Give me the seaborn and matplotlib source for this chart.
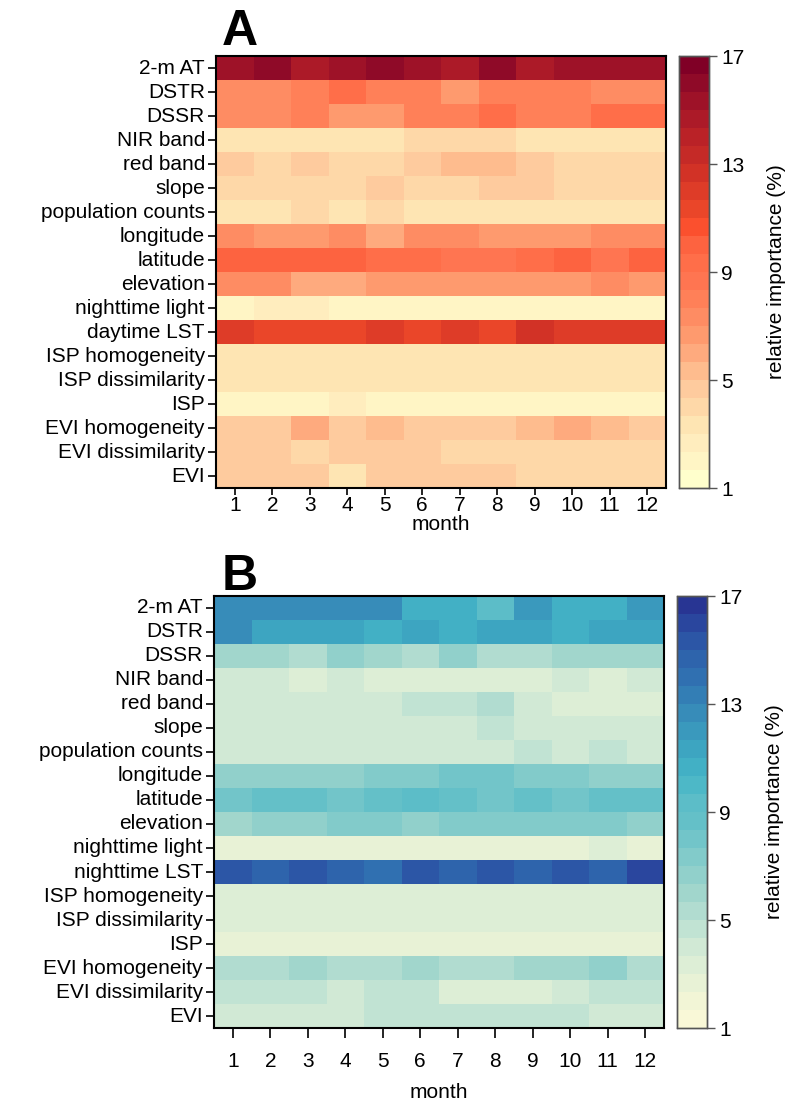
import numpy as np
import pandas as pd
import matplotlib
matplotlib.use("Agg")
import matplotlib.pyplot as plt
import seaborn as sns
from matplotlib.colors import ListedColormap

sns.set_style("white")
plt.rcParams['font.family'] = ['Liberation Sans', 'DejaVu Sans']

months = [str(m) for m in range(1, 13)]
features_a = ["2-m AT", "DSTR", "DSSR", "NIR band", "red band", "slope",
              "population counts", "longitude", "latitude", "elevation",
              "nighttime light", "daytime LST", "ISP homogeneity",
              "ISP dissimilarity", "ISP", "EVI homogeneity",
              "EVI dissimilarity", "EVI"]
features_b = ["2-m AT", "DSTR", "DSSR", "NIR band", "red band", "slope",
              "population counts", "longitude", "latitude", "elevation",
              "nighttime light", "nighttime LST", "ISP homogeneity",
              "ISP dissimilarity", "ISP", "EVI homogeneity",
              "EVI dissimilarity", "EVI"]

vals_a = [
    [15.3, 16.0, 14.7, 15.3, 16.0, 15.3, 14.7, 16.0, 14.7, 15.3, 15.3, 15.3],
    [7.3, 7.3, 8.0, 9.3, 8.0, 8.0, 6.7, 8.0, 8.0, 8.0, 7.3, 7.3],
    [7.3, 7.3, 8.0, 6.7, 6.7, 8.0, 8.0, 9.3, 8.0, 8.0, 9.3, 9.3],
    [3.3, 3.3, 3.3, 3.3, 3.3, 4.0, 4.0, 4.0, 3.3, 3.3, 3.3, 3.3],
    [4.7, 4.0, 4.7, 4.0, 4.0, 4.7, 5.3, 5.3, 4.7, 4.0, 4.0, 4.0],
    [4.0, 4.0, 4.0, 4.0, 4.7, 4.0, 4.0, 4.7, 4.7, 4.0, 4.0, 4.0],
    [3.3, 3.3, 4.0, 3.3, 4.0, 3.3, 3.3, 3.3, 3.3, 3.3, 3.3, 3.3],
    [7.3, 6.7, 6.7, 7.3, 6.0, 7.3, 7.3, 6.7, 6.7, 6.7, 7.3, 7.3],
    [10.0, 10.0, 10.0, 10.0, 9.3, 9.3, 8.7, 8.7, 9.3, 10.0, 8.7, 10.0],
    [7.3, 7.3, 6.0, 6.0, 6.7, 6.7, 6.7, 6.7, 6.7, 6.7, 7.3, 6.7],
    [2.0, 2.7, 2.7, 2.0, 2.0, 2.0, 2.0, 2.0, 2.0, 2.0, 2.0, 2.0],
    [12.0, 11.3, 11.3, 11.3, 12.0, 11.3, 12.0, 11.3, 12.7, 12.0, 12.0, 12.0],
    [3.3] * 12,
    [3.3] * 12,
    [2.0, 2.0, 2.0, 2.7, 2.0, 2.0, 2.0, 2.0, 2.0, 2.0, 2.0, 2.0],
    [4.7, 4.7, 6.0, 4.7, 5.3, 4.7, 4.7, 4.7, 5.3, 6.0, 5.3, 4.7],
    [4.7, 4.7, 4.0, 4.7, 4.7, 4.7, 4.0, 4.0, 4.0, 4.0, 4.0, 4.0],
    [4.7, 4.7, 4.7, 3.3, 4.7, 4.7, 4.7, 4.7, 4.0, 4.0, 4.0, 4.0],
]

vals_b = [
    [12.7, 12.7, 12.7, 12.7, 12.7, 10.7, 10.7, 9.3, 12.0, 10.7, 10.7, 12.0],
    [12.7, 11.3, 11.3, 11.3, 10.7, 11.3, 10.7, 11.3, 11.3, 10.7, 11.3, 11.3],
    [6.0, 6.0, 5.3, 6.7, 6.0, 5.3, 6.7, 5.3, 5.3, 6.0, 6.0, 6.0],
    [4.0, 4.0, 3.3, 4.0, 3.3, 3.3, 3.3, 3.3, 3.3, 4.0, 3.3, 4.0],
    [4.0, 4.0, 4.0, 4.0, 4.0, 4.7, 4.7, 5.3, 4.0, 3.3, 3.3, 3.3],
    [4.0, 4.0, 4.0, 4.0, 4.0, 4.0, 4.0, 4.7, 4.0, 4.0, 4.0, 4.0],
    [4.0, 4.0, 4.0, 4.0, 4.0, 4.0, 4.0, 4.0, 4.7, 4.0, 4.7, 4.0],
    [6.7, 6.7, 6.7, 6.7, 7.3, 7.3, 8.0, 8.0, 7.3, 7.3, 6.7, 6.7],
    [8.0, 8.7, 8.7, 8.0, 8.7, 9.3, 8.7, 8.0, 8.7, 8.0, 8.7, 8.7],
    [6.0, 6.7, 6.7, 7.3, 7.3, 6.7, 7.3, 7.3, 7.3, 7.3, 7.3, 6.7],
    [2.7, 2.7, 2.7, 2.7, 2.7, 2.7, 2.7, 2.7, 2.7, 2.7, 3.3, 2.7],
    [15.3, 14.7, 15.3, 14.7, 14.0, 15.3, 14.7, 15.3, 14.7, 15.3, 14.7, 16.0],
    [3.3] * 12,
    [3.3] * 12,
    [2.7] * 12,
    [5.3, 5.3, 6.0, 5.3, 5.3, 6.0, 5.3, 5.3, 6.0, 6.0, 6.7, 5.3],
    [4.7, 4.7, 4.7, 4.0, 4.7, 4.7, 3.3, 3.3, 3.3, 4.0, 4.7, 4.7],
    [4.0, 4.0, 4.0, 4.0, 4.7, 4.7, 4.7, 4.7, 4.7, 4.7, 4.0, 4.0],
]

cbar_ticks = [1, 5, 9, 13, 17]
cbar_label = "relative importance (%)"

# 24-step palettes (low -> high)
colors_a = ["#FFFFCC", "#FFF5C5", "#FFEDBE", "#FEE5B3", "#FED8A8", "#FECB9E",
            "#FEBC8E", "#FEAA7E", "#FE9A6E", "#FE8C63", "#FF8058", "#FF7551",
            "#FF6E49", "#FD6340", "#FB502E", "#EA4629", "#DE3C28", "#D23226",
            "#C52A27", "#BA2227", "#AC1A28", "#9E1228", "#8F0A28", "#800026"]
colors_b = ["#F9F8D7", "#F2F5D6", "#E8F2D6", "#DDEED6", "#D1E9D5", "#C1E3D3",
            "#B1DCD0", "#A1D6CC", "#91D0CB", "#82CBCA", "#72C5C9", "#64C0C8",
            "#5CBDC8", "#4DB8C7", "#42B0C5", "#3DA5C1", "#3A99BD", "#378CB9",
            "#337EB5", "#3070B1", "#2E64AC", "#2C56A6", "#2A469E", "#283593"]
cmap_a = ListedColormap(colors_a)
cmap_b = ListedColormap(colors_b)

W, H = 793, 1105
fig = plt.figure(figsize=(W / 100, H / 100), dpi=100)

def fx(px):
    return px / W

def fy(py):
    return 1 - py / H

# letter, data, labels, cmap, heatmap box px, colorbar x px, letter baseline px,
# x tick length, x tick pad, month labelpad
panels = [
    ("A", vals_a, features_a, cmap_a, (216, 56, 666, 488), (679, 709), 45, 5, 0.5, 0),
    ("B", vals_b, features_b, cmap_b, (214, 596, 664, 1028), (677, 707), 590, 7, 10, 9),
]

fs = 15
for (letter, vals, feats, cmap, (l, t, r, b), (cl, cr), lby,
     xtl, xpad, mpad) in panels:
    ax = fig.add_axes([fx(l), fy(b), fx(r) - fx(l), fy(t) - fy(b)])
    cax = fig.add_axes([fx(cl), fy(b), fx(cr) - fx(cl), fy(t) - fy(b)])
    df = pd.DataFrame(vals, index=feats, columns=months)
    sns.heatmap(df, ax=ax, cmap=cmap, vmin=1, vmax=17, cbar_ax=cax,
                cbar_kws={"ticks": cbar_ticks})
    for sp in ax.spines.values():
        sp.set_visible(True)
        sp.set_color("black")
        sp.set_linewidth(1.5)
    ax.tick_params(axis="both", which="major", width=1.2,
                   color="black", labelsize=fs, labelcolor="black",
                   direction="out", bottom=True, left=True)
    ax.tick_params(axis="x", length=xtl, pad=xpad)
    ax.tick_params(axis="y", length=6, pad=2)
    ax.set_yticklabels(feats, rotation=0)
    ax.set_xticklabels(months, rotation=0)
    ax.set_xlabel("month", fontsize=fs, labelpad=mpad, color="black")
    ax.set_ylabel("")
    fig.text(fx(222), fy(lby), letter, fontsize=36, fontweight="bold",
             ha="left", va="baseline", color="black")
    cax.tick_params(length=6, width=1.0, labelsize=fs, color="#555555",
                    labelcolor="black", pad=3)
    cax.set_ylabel(cbar_label, fontsize=fs, labelpad=16, color="black")
    for sp in cax.spines.values():
        sp.set_visible(True)
        sp.set_color("#555555")
        sp.set_linewidth(1.0)

fig.savefig("out.png", dpi=100)
